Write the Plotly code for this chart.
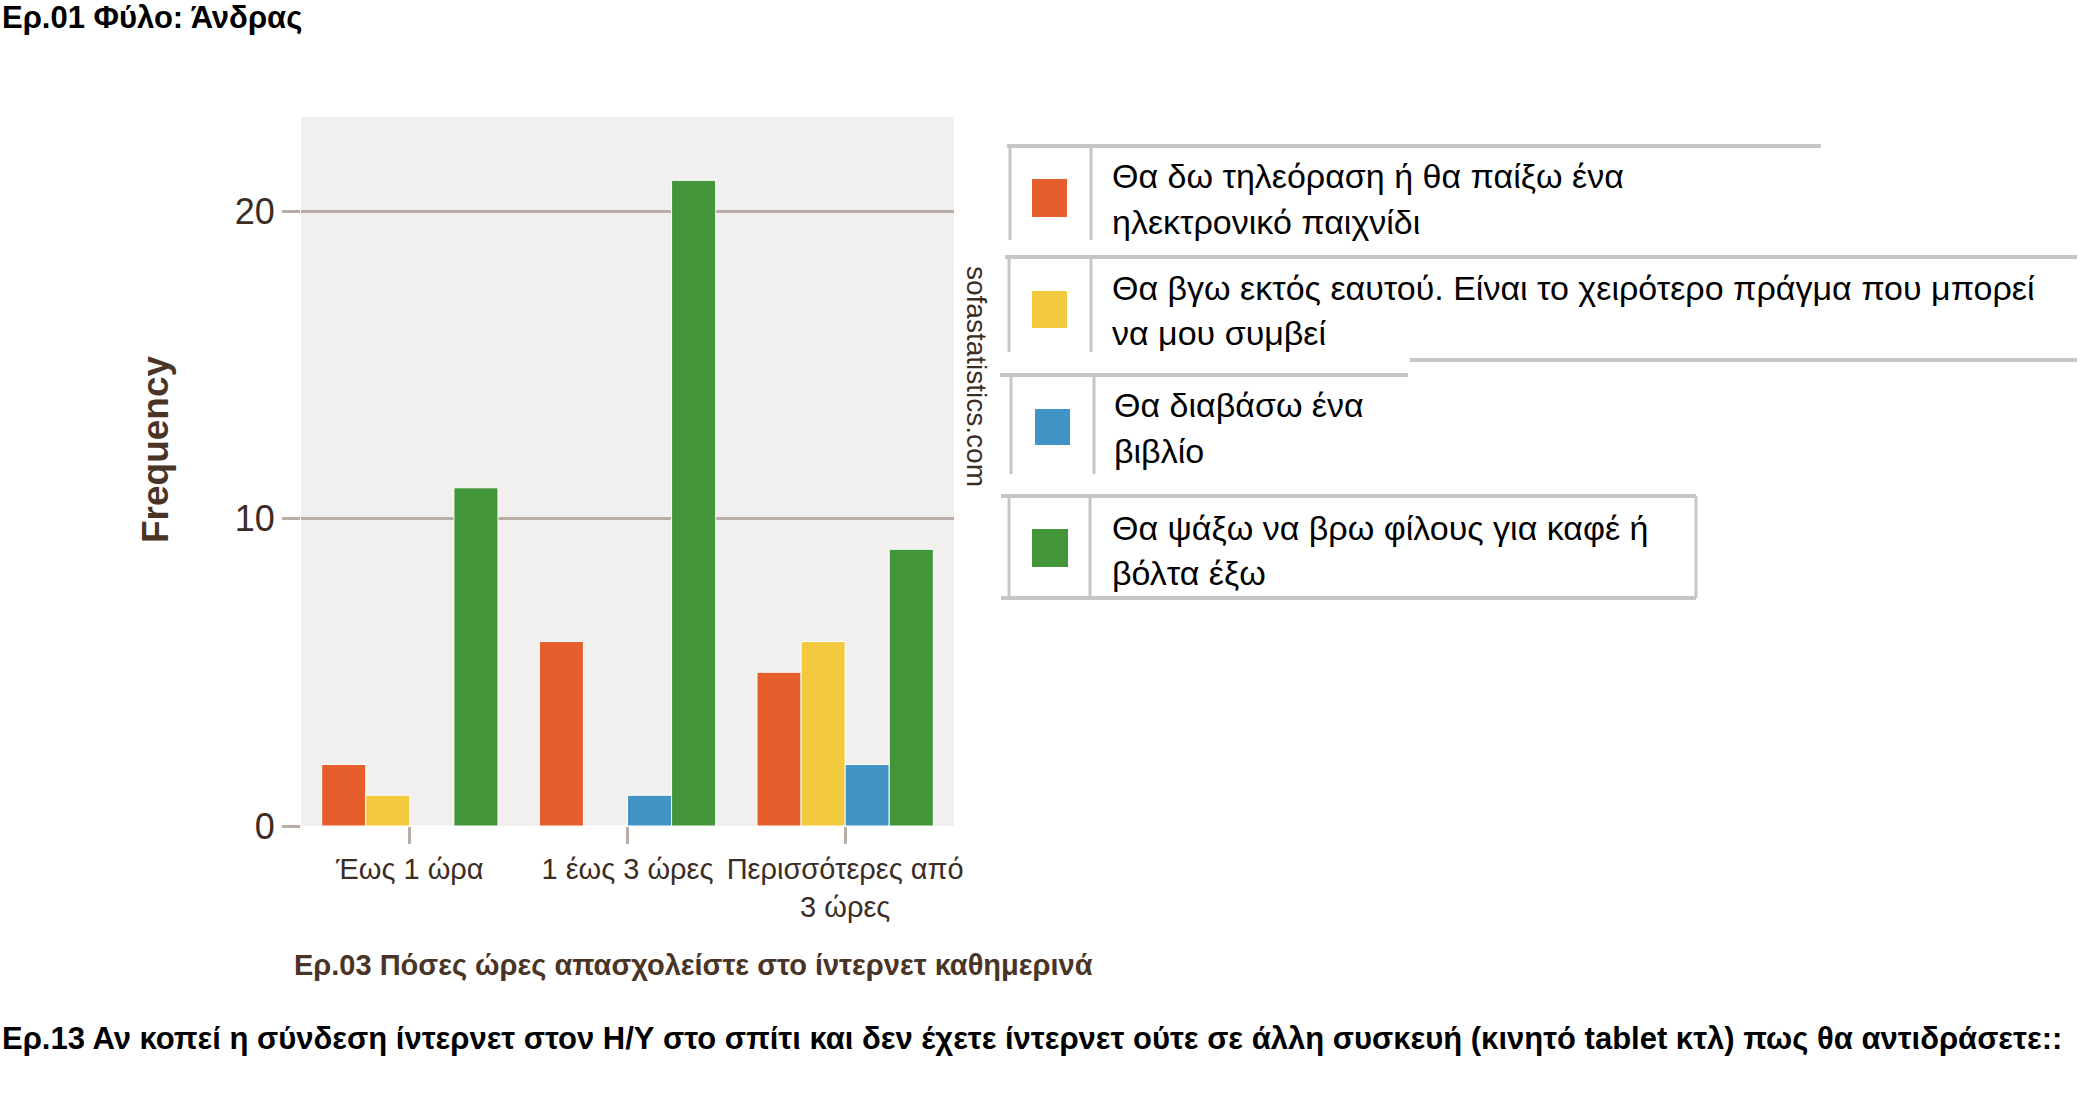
import plotly.graph_objects as go

# ---------------- data ----------------
categories = ["Έως 1 ώρα", "1 έως 3 ώρες", "Περισσότερες από<br>3 ώρες"]
series_names = [
    "Θα δω τηλεόραση ή θα παίξω ένα<br>ηλεκτρονικό παιχνίδι",
    "Θα βγω εκτός εαυτού. Είναι το χειρότερο πράγμα που μπορεί<br>να μου συμβεί",
    "Θα διαβάσω ένα<br>βιβλίο",
    "Θα ψάξω να βρω φίλους για καφέ ή<br>βόλτα έξω",
]
tv_values = [2, 6, 5]
outburst_values = [1, 0, 6]
book_values = [0, 1, 2]
friends_values = [11, 21, 9]
series_values = [tv_values, outburst_values, book_values, friends_values]
series_colors = ["#e55e2b", "#f3ca3e", "#4394c6", "#43953a"]

y_tick_values = [0, 10, 20]

top_title = "Ερ.01 Φύλο: Άνδρας"
x_title = "Ερ.03 Πόσες ώρες απασχολείστε στο ίντερνετ καθημερινά"
y_title = "Frequency"
bottom_title = ("Ερ.13 Αν κοπεί η σύνδεση ίντερνετ στον Η/Υ στο σπίτι και δεν έχετε "
                "ίντερνετ ούτε σε άλλη συσκευή (κινητό tablet κτλ) πως θα αντιδράσετε::")
watermark = "sofastatistics.com"

# ---------------- layout geometry ----------------
W, H = 2081, 1111
PL, PR, PT, PB = 301, 954, 117, 826  # plot area in pixels
FONT = "Liberation Sans, Arial, sans-serif"
BROWN = "#3b2c24"
GRID = "#b9aea7"
BORDER = "#c6c6c6"


def px(x):
    return (x - PL) / (PR - PL)


def py(y):
    return (PB - y) / (PB - PT)


fig = go.Figure()
for name, vals, col in zip(series_names, series_values, series_colors):
    fig.add_trace(go.Bar(
        x=categories, y=vals, name=name.replace("<br>", " "),
        marker=dict(color=col, line=dict(color="white", width=1)),
        showlegend=False, hoverinfo="x+y+name",
    ))

fig.update_layout(
    width=W, height=H, autosize=False,
    margin=dict(l=PL, r=W - PR, t=PT, b=H - PB, pad=0),
    paper_bgcolor="white", plot_bgcolor="#f1f0ee",
    barmode="group", bargap=0.19, bargroupgap=0,
    font=dict(family=FONT, color=BROWN, size=30),
)
fig.update_xaxes(
    showgrid=False, zeroline=False, showline=False,
    ticks="outside", ticklen=17, tickwidth=3, tickcolor=GRID,
    tickangle=0,
    tickfont=dict(size=29, color=BROWN, family=FONT),
)
fig.update_yaxes(
    range=[0, 23.06], tickvals=y_tick_values,
    showgrid=True, gridcolor=GRID, gridwidth=3,
    zeroline=False, showline=False,
    ticks="outside", ticklen=18, tickwidth=3, tickcolor=GRID,
    tickfont=dict(size=36, color=BROWN, family=FONT),
)

ann = []
shapes = []
# titles
ann.append(dict(text="<b>" + top_title + "</b>", x=px(0), y=py(17), xref="paper", yref="paper",
                xanchor="left", yanchor="middle", showarrow=False,
                font=dict(size=31, color="black", family=FONT)))
ann.append(dict(text="<b>" + y_title + "</b>", x=px(155), y=py(449), xref="paper", yref="paper",
                xanchor="center", yanchor="middle", showarrow=False, textangle=-90,
                font=dict(size=37, color="#4a3426", family=FONT)))
ann.append(dict(text="<b>" + x_title + "</b>", x=px(292), y=py(965), xref="paper", yref="paper",
                xanchor="left", yanchor="middle", showarrow=False,
                font=dict(size=29, color="#4a3426", family=FONT)))
ann.append(dict(text="<b>" + bottom_title + "</b>", x=px(0), y=py(1038), xref="paper", yref="paper",
                xanchor="left", yanchor="middle", showarrow=False,
                font=dict(size=31, color="black", family=FONT)))
ann.append(dict(text=watermark, x=px(977), y=py(376), xref="paper", yref="paper",
                xanchor="center", yanchor="middle", showarrow=False, textangle=90,
                font=dict(size=28, color=BROWN, family=FONT)))


def hline(x0, x1, y, w=4):
    shapes.append(dict(type="line", xref="paper", yref="paper", x0=px(x0), x1=px(x1),
                       y0=py(y), y1=py(y), line=dict(color=BORDER, width=w)))


def vline(x, y0, y1, w=3):
    shapes.append(dict(type="line", xref="paper", yref="paper", x0=px(x), x1=px(x),
                       y0=py(y0), y1=py(y1), line=dict(color=BORDER, width=w)))


# legend-like table (pixel geometry)
legend_items = [
    dict(top=146, tx0=1007, tx1=1821, left=1010, div=1091, bottom=240,
         sw=(1032, 1067, 179, 217), text_x=1110, lines_y=(176, 222)),
    dict(top=257, tx0=1005, tx1=2077, left=1009, div=1091, bottom=352,
         sw=(1032, 1067, 291, 328), text_x=1110, lines_y=(288, 333)),
    dict(top=375, tx0=1000, tx1=1408, left=1011, div=1094, bottom=474,
         sw=(1035, 1070, 409, 445), text_x=1112, lines_y=(405, 451)),
    dict(top=496, tx0=1001, tx1=1696, left=1009, div=1090, bottom=598,
         sw=(1032, 1068, 529, 567), text_x=1110, lines_y=(528, 573)),
]
for item, name, col in zip(legend_items, series_names, series_colors):
    hline(item["tx0"], item["tx1"], item["top"])
    vline(item["left"], item["top"], item["bottom"])
    vline(item["div"], item["top"], item["bottom"])
    x0, x1, y0, y1 = item["sw"]
    shapes.append(dict(type="rect", xref="paper", yref="paper", x0=px(x0), x1=px(x1),
                       y0=py(y1), y1=py(y0), line=dict(width=0), fillcolor=col))
    for line_text, ly in zip(name.split("<br>"), item["lines_y"]):
        ann.append(dict(text=line_text, x=px(item["text_x"]), y=py(ly), xref="paper", yref="paper",
                        xanchor="left", yanchor="middle", showarrow=False,
                        font=dict(size=34, color="black", family=FONT)))
# extra borders
hline(1410, 2077, 360)
vline(1696, 496, 598)
hline(1001, 1696, 598)

fig.update_layout(annotations=ann, shapes=shapes)
fig.write_html("out.html", config={"displayModeBar": False},
               post_script="document.body.style.margin='0px';document.body.style.overflow='hidden';")
